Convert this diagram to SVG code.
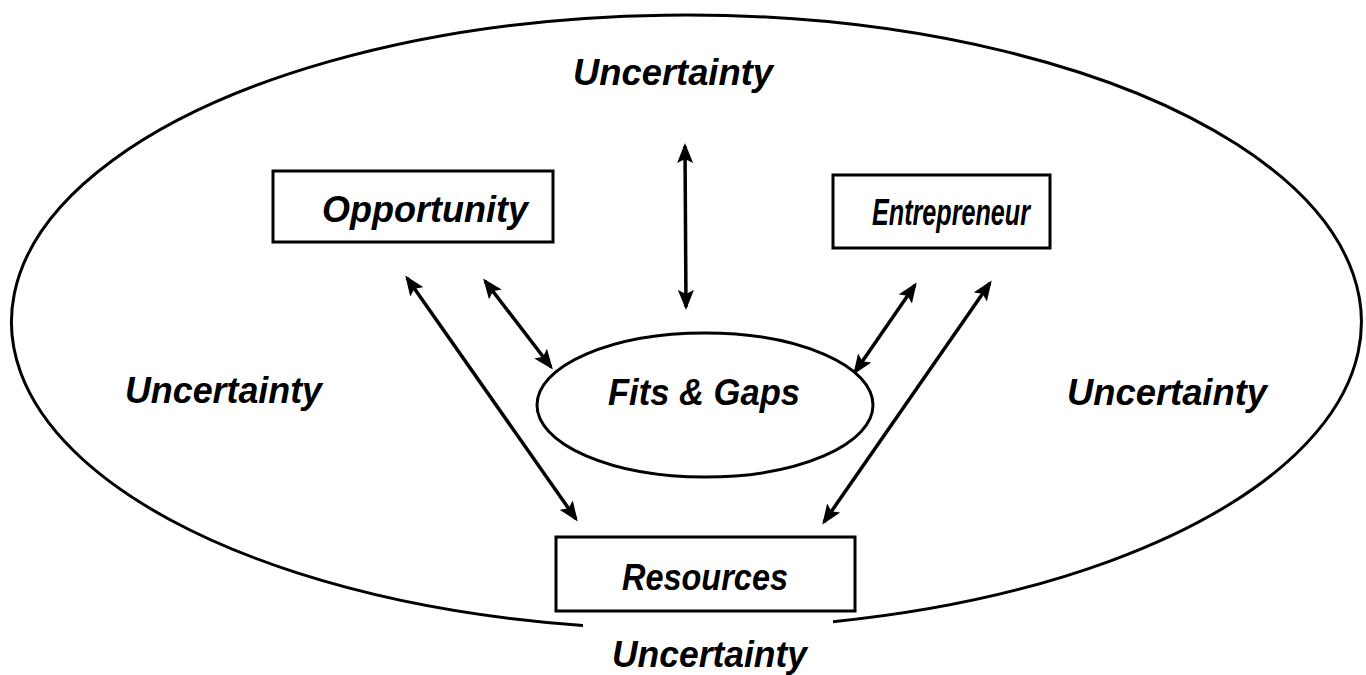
<svg xmlns="http://www.w3.org/2000/svg" width="1366" height="675" viewBox="0 0 1366 675">
<style>
.box{fill:#fff;stroke:#000;stroke-width:3}
.lbl{font-family:"Liberation Sans",Arial,sans-serif;font-style:italic;font-weight:bold;font-size:36px;fill:#000;text-anchor:start}
.conn{stroke:#000;stroke-width:3.5;fill:none;marker-start:url(#ah);marker-end:url(#ah)}
</style>
<defs>
<marker id="ah" viewBox="0 0 20 16" refX="17" refY="8" markerWidth="20" markerHeight="16" markerUnits="userSpaceOnUse" orient="auto-start-reverse">
<path d="M0,0 L20,8 L0,16 L4,8 z" fill="#000"/>
</marker>
</defs>
<rect width="1366" height="675" fill="#fff"/>
<g id="environment">
<path d="M 583 625.4 A 675 307 0 1 1 833 621.7" fill="none" stroke="#000" stroke-width="3"/>
<text class="lbl" x="573" y="85" textLength="200" lengthAdjust="spacingAndGlyphs">Uncertainty</text>
<text class="lbl" x="125" y="403" textLength="197" lengthAdjust="spacingAndGlyphs">Uncertainty</text>
<text class="lbl" x="1067" y="405" textLength="200" lengthAdjust="spacingAndGlyphs">Uncertainty</text>
<text class="lbl" x="612" y="667" textLength="195" lengthAdjust="spacingAndGlyphs">Uncertainty</text>
</g>
<g id="connectors">
<line class="conn" x1="685" y1="146" x2="686" y2="307"/>
<line class="conn" x1="407" y1="278" x2="576" y2="519"/>
<line class="conn" x1="485" y1="281" x2="551" y2="367"/>
<line class="conn" x1="915" y1="285" x2="855" y2="372"/>
<line class="conn" x1="990" y1="283" x2="824" y2="522"/>
</g>
<g id="opportunity">
<rect class="box" x="273" y="171" width="280" height="71"/>
<text class="lbl" x="322" y="222" textLength="206" lengthAdjust="spacingAndGlyphs">Opportunity</text>
</g>
<g id="entrepreneur">
<rect class="box" x="833" y="175" width="217" height="73"/>
<text class="lbl" x="872" y="225" textLength="158" lengthAdjust="spacingAndGlyphs">Entrepreneur</text>
</g>
<g id="fits-gaps">
<ellipse class="box" cx="705" cy="405" rx="168" ry="72"/>
<text class="lbl" x="608" y="405" textLength="192" lengthAdjust="spacingAndGlyphs">Fits &amp; Gaps</text>
</g>
<g id="resources">
<rect class="box" x="556" y="537" width="299" height="74"/>
<text class="lbl" x="622" y="590" textLength="166" lengthAdjust="spacingAndGlyphs">Resources</text>
</g>
</svg>
